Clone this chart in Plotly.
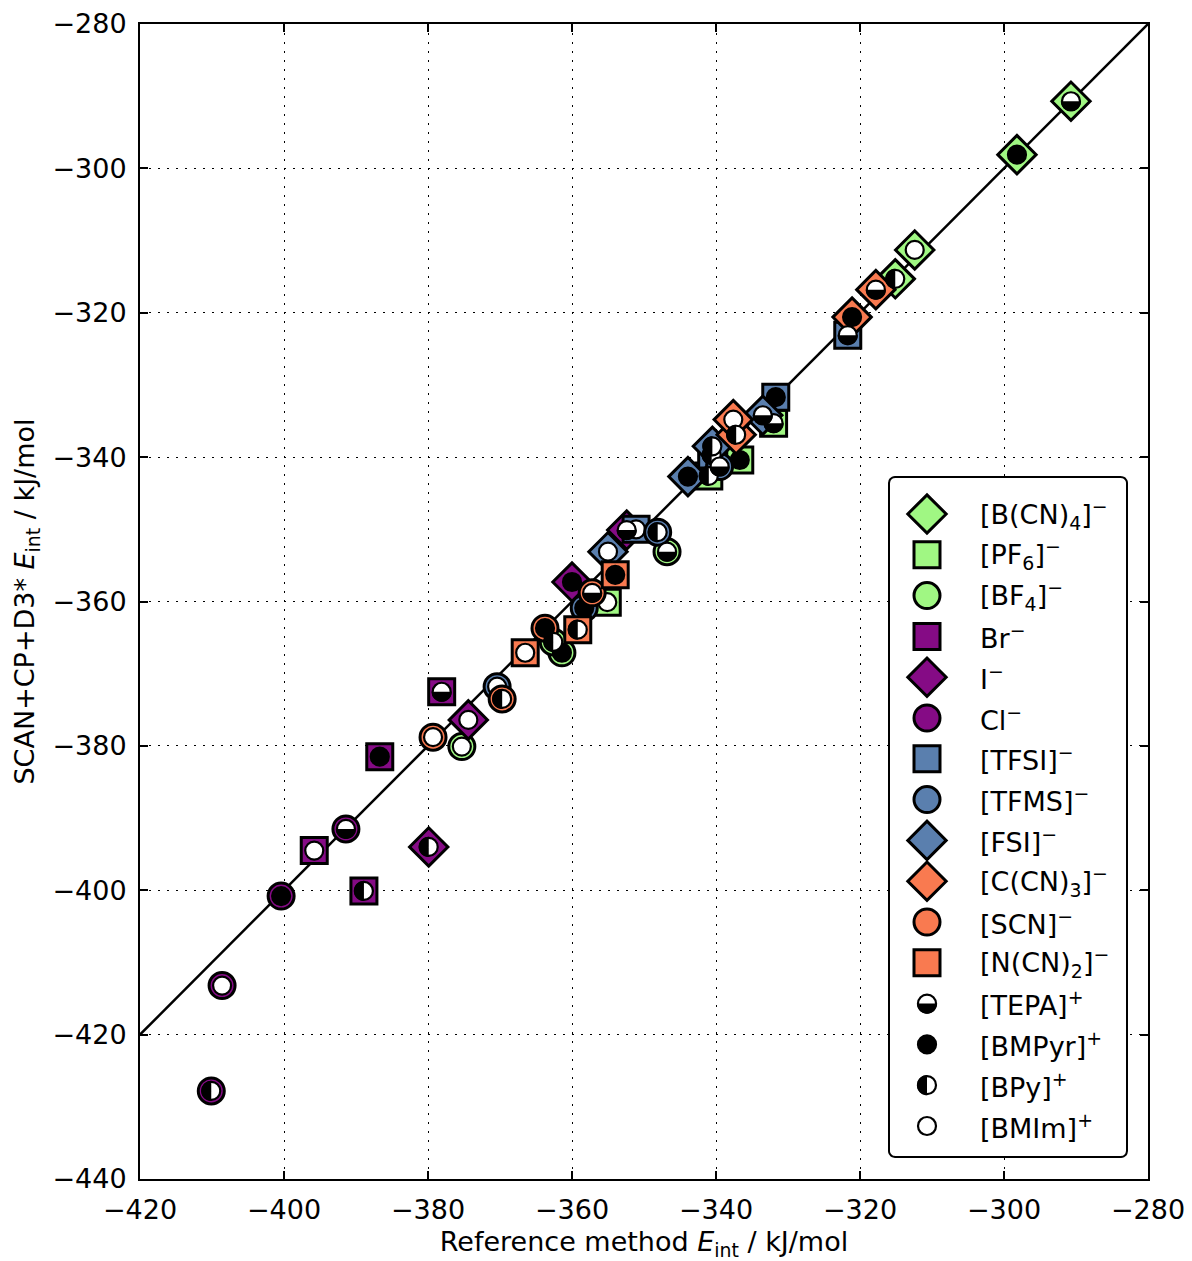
import numpy as np
import plotly.graph_objects as go

# ---- data: reference vs. SCAN+CP+D3* interaction energies (kJ/mol) ----
cations = ["TEPA", "BMPyr", "BPy", "BMIm"]

bcn4_ref = [-290.7, -298.2, -315.1, -312.4]
bcn4_scan = [-290.7, -298.1, -315.3, -311.3]
pf6_ref = [-332.0, -336.7, -341.0, -355.1]
pf6_scan = [-335.3, -340.4, -342.6, -360.1]
bf4_ref = [-346.8, -361.4, -362.6, -375.3]
bf4_scan = [-353.1, -367.1, -365.6, -380.1]
br_ref = [-378.1, -386.7, -388.9, -395.8]
br_scan = [-372.5, -381.5, -400.1, -394.5]
i_ref = [-352.4, -360.0, -379.9, -374.4]
i_scan = [-350.1, -357.3, -394.0, -376.4]
cl_ref = [-391.4, -400.4, -410.1, -408.6]
cl_scan = [-391.5, -400.8, -427.8, -413.2]
tfsi_ref = [-321.7, -331.7, -340.6, -351.1]
tfsi_scan = [-323.1, -331.7, -339.7, -350.0]
tfms_ref = [-339.5, -358.3, -348.1, -370.4]
tfms_scan = [-341.3, -360.9, -350.4, -371.8]
fsi_ref = [-333.5, -343.9, -340.5, -355.0]
fsi_scan = [-334.2, -342.7, -338.5, -353.1]
ccn3_ref = [-317.8, -321.1, -337.2, -337.6]
ccn3_scan = [-316.8, -320.6, -336.9, -334.8]
scn_ref = [-357.2, -363.75, -369.7, -379.3]
scn_scan = [-358.8, -363.7, -373.5, -378.8]
ncn2_ref = [None, -354.0, -359.2, -366.5]
ncn2_scan = [None, -356.3, -363.9, -367.1]

anion_labels = [
    "[B(CN)<sub>4</sub>]<sup>−</sup>", "[PF<sub>6</sub>]<sup>−</sup>",
    "[BF<sub>4</sub>]<sup>−</sup>", "Br<sup>−</sup>", "I<sup>−</sup>",
    "Cl<sup>−</sup>", "[TFSI]<sup>−</sup>", "[TFMS]<sup>−</sup>",
    "[FSI]<sup>−</sup>", "[C(CN)<sub>3</sub>]<sup>−</sup>",
    "[SCN]<sup>−</sup>", "[N(CN)<sub>2</sub>]<sup>−</sup>",
]
cation_labels = ["[TEPA]<sup>+</sup>", "[BMPyr]<sup>+</sup>",
                 "[BPy]<sup>+</sup>", "[BMIm]<sup>+</sup>"]

axis_range = [-420, -280]
y_range = [-440, -280]
tick_vals = [-420, -400, -380, -360, -340, -320, -300, -280]
ytick_vals = [-440, -420, -400, -380, -360, -340, -320, -300, -280]

series = [
    (bcn4_ref, bcn4_scan), (pf6_ref, pf6_scan), (bf4_ref, bf4_scan),
    (br_ref, br_scan), (i_ref, i_scan), (cl_ref, cl_scan),
    (tfsi_ref, tfsi_scan), (tfms_ref, tfms_scan), (fsi_ref, fsi_scan),
    (ccn3_ref, ccn3_scan), (scn_ref, scn_scan), (ncn2_ref, ncn2_scan),
]

# ---- styles ----
GREEN = "#a0f783"
PURPLE = "#850b85"
BLUE = "#5a7fae"
ORANGE = "#f97a50"
anion_colors = [GREEN, GREEN, GREEN, PURPLE, PURPLE, PURPLE,
                BLUE, BLUE, BLUE, ORANGE, ORANGE, ORANGE]
anion_symbols = ["diamond", "square", "circle",
                 "square", "diamond", "circle",
                 "square", "circle", "diamond",
                 "diamond", "circle", "square"]
symbol_size = {"diamond": 29.5, "square": 26, "circle": 26}
OUTER_LW = 3
INNER_SIZE = 18
INNER_LW = 2.2
INNER_R = INNER_SIZE / 2 + INNER_LW / 2
FONT = "DejaVu Sans"
FS = 27

# plot area in page pixels
L, R, T, B = 140, 1148, 24, 1179
W, H = 1192, 1261

fig = go.Figure()

# identity line
fig.add_trace(go.Scatter(x=axis_range, y=axis_range, mode="lines",
                         line=dict(color="black", width=2.5),
                         showlegend=False, hoverinfo="skip"))


def half_path(r, kind):
    """Pixel-offset path for a filled half disc (bottom or left half)."""
    if kind == "bottom":
        th = np.linspace(np.pi, 2 * np.pi, 40)
    else:
        th = np.linspace(0.5 * np.pi, 1.5 * np.pi, 40)
    pts = [f"{r * np.cos(t):.2f},{r * np.sin(t):.2f}" for t in th]
    return "M" + " L".join(pts) + " Z"


shapes = []


def half_marker(x, y, kind, xref="x", yref="y"):
    base = dict(xref=xref, yref=yref, xsizemode="pixel", ysizemode="pixel",
                xanchor=x, yanchor=y, layer="above")
    shapes.append(dict(type="circle", x0=-INNER_SIZE / 2, x1=INNER_SIZE / 2,
                       y0=-INNER_SIZE / 2, y1=INNER_SIZE / 2,
                       fillcolor="white",
                       line=dict(color="black", width=INNER_LW), **base))
    shapes.append(dict(type="path", path=half_path(INNER_R, kind),
                       fillcolor="black", line=dict(width=0), **base))


for k, (ref, scan) in enumerate(series):
    sym = anion_symbols[k]
    fig.add_trace(go.Scatter(
        x=ref, y=scan, mode="markers", showlegend=False,
        marker=dict(symbol=sym, size=symbol_size[sym], color=anion_colors[k],
                    line=dict(color="black", width=OUTER_LW)),
    ))
    for c, cat in enumerate(cations):
        if ref[c] is None:
            continue
        if cat == "BMPyr":
            fig.add_trace(go.Scatter(
                x=[ref[c]], y=[scan[c]], mode="markers", showlegend=False,
                marker=dict(symbol="circle", size=INNER_SIZE, color="black",
                            line=dict(color="black", width=INNER_LW))))
        elif cat == "BMIm":
            fig.add_trace(go.Scatter(
                x=[ref[c]], y=[scan[c]], mode="markers", showlegend=False,
                marker=dict(symbol="circle", size=INNER_SIZE, color="white",
                            line=dict(color="black", width=INNER_LW))))
        elif cat == "TEPA":
            half_marker(ref[c], scan[c], "bottom")
        else:
            half_marker(ref[c], scan[c], "left")

# ---- legend, drawn on a page-pixel overlay axis ----
box_x0, box_x1, box_y0, box_y1 = 889, 1127, 477, 1157
rad = 6
corners = [(box_x1 - rad, box_y0 + rad, -0.5 * np.pi, 0.0),
           (box_x1 - rad, box_y1 - rad, 0.0, 0.5 * np.pi),
           (box_x0 + rad, box_y1 - rad, 0.5 * np.pi, np.pi),
           (box_x0 + rad, box_y0 + rad, np.pi, 1.5 * np.pi)]
bx, by = [], []
for cx, cy, a0, a1 in corners:
    for t in np.linspace(a0, a1, 8):
        bx.append(cx + rad * np.cos(t))
        by.append(cy + rad * np.sin(t))
bx.append(bx[0])
by.append(by[0])
fig.add_trace(go.Scatter(x=bx, y=by, xaxis="x2", yaxis="y2", mode="lines",
                         fill="toself", fillcolor="white",
                         line=dict(color="black", width=2),
                         showlegend=False, hoverinfo="skip"))

row0, row_step = 514, 40.8
sym_x, text_x = 927, 978
annotations = []
labels_all = anion_labels + cation_labels
for i, lab in enumerate(labels_all):
    yy = row0 + i * row_step
    annotations.append(dict(xref="x2", yref="y2", x=text_x, y=yy, text=lab,
                            showarrow=False, xanchor="left", yanchor="middle",
                            font=dict(family=FONT, size=FS, color="black")))
    if i < len(anion_labels):
        sym = anion_symbols[i]
        fig.add_trace(go.Scatter(
            x=[sym_x], y=[yy], xaxis="x2", yaxis="y2", mode="markers",
            showlegend=False, hoverinfo="skip",
            marker=dict(symbol=sym, size=symbol_size[sym],
                        color=anion_colors[i],
                        line=dict(color="black", width=OUTER_LW))))
    else:
        cat = cations[i - len(anion_labels)]
        if cat in ("BMPyr", "BMIm"):
            fig.add_trace(go.Scatter(
                x=[sym_x], y=[yy], xaxis="x2", yaxis="y2", mode="markers",
                showlegend=False, hoverinfo="skip",
                marker=dict(symbol="circle", size=INNER_SIZE,
                            color="black" if cat == "BMPyr" else "white",
                            line=dict(color="black", width=INNER_LW))))
        else:
            half_marker(sym_x, yy, "bottom" if cat == "TEPA" else "left",
                        xref="x2", yref="y2")

axis_common = dict(
    showline=True, linecolor="black", linewidth=2, mirror="ticks",
    ticks="inside", ticklen=8, tickwidth=1.5, tickcolor="black",
    showgrid=True, gridcolor="black", gridwidth=1.3, griddash="2px,7px",
    zeroline=False, tickfont=dict(family=FONT, size=FS, color="black"),
    fixedrange=True, automargin=False,
)

fig.update_layout(
    width=W, height=H,
    margin=dict(l=L, r=W - R, t=T, b=H - B, pad=0),
    paper_bgcolor="white", plot_bgcolor="white",
    showlegend=False,
    font=dict(family=FONT, size=FS, color="black"),
    xaxis=dict(range=axis_range, tickvals=tick_vals,
               title=dict(text="Reference method <i>E</i><sub>int</sub> / kJ/mol",
                          font=dict(family=FONT, size=FS), standoff=18),
               ticklabelstandoff=6, **axis_common),
    yaxis=dict(range=y_range, tickvals=ytick_vals,
               title=dict(text="SCAN+CP+D3* <i>E</i><sub>int</sub> / kJ/mol",
                          font=dict(family=FONT, size=FS), standoff=10),
               ticklabelstandoff=6, **axis_common),
    xaxis2=dict(range=[L, R], overlaying="x", visible=False, fixedrange=True,
                automargin=False),
    yaxis2=dict(range=[B, T], overlaying="y", visible=False, fixedrange=True,
                automargin=False),
    shapes=shapes,
    annotations=annotations,
)

fig.write_html("out.html")
